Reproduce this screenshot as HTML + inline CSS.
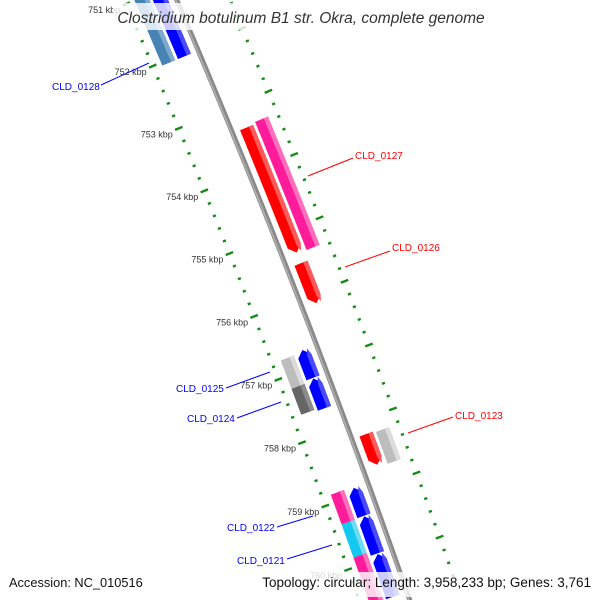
<!DOCTYPE html>
<html><head><meta charset="utf-8"><style>
html,body{margin:0;padding:0;background:#fff;overflow:hidden;width:600px;height:600px;}
svg{display:block;font-family:"Liberation Sans",sans-serif;overflow:hidden;}
</style></head><body>
<svg id="map" width="600" height="600" viewBox="0 0 600 600" xmlns="http://www.w3.org/2000/svg">
<rect x="0" y="0" width="600" height="600" fill="#fff"/>
<g id="ticks"></g>
<g id="backbone"></g>
<g id="feats"></g>
<g id="tlabels"></g>
<g font-size="10">
 <line x1="101" y1="85" x2="149" y2="63" stroke="#0000ff" stroke-width="1"/>
 <text x="52" y="90" fill="#0000ff">CLD_0128</text>
 <line x1="353" y1="158" x2="308" y2="176" stroke="#ff0000" stroke-width="1"/>
 <text x="355" y="159" fill="#ff0000">CLD_0127</text>
 <line x1="390" y1="251" x2="345" y2="267" stroke="#ff0000" stroke-width="1"/>
 <text x="392" y="251" fill="#ff0000">CLD_0126</text>
 <line x1="226" y1="388" x2="270" y2="372" stroke="#0000ff" stroke-width="1"/>
 <text x="176" y="392" fill="#0000ff">CLD_0125</text>
 <line x1="237" y1="418" x2="281" y2="402" stroke="#0000ff" stroke-width="1"/>
 <text x="187" y="422" fill="#0000ff">CLD_0124</text>
 <line x1="408" y1="433" x2="453" y2="417" stroke="#ff0000" stroke-width="1"/>
 <text x="455" y="419" fill="#ff0000">CLD_0123</text>
 <line x1="277" y1="527" x2="313" y2="516" stroke="#0000ff" stroke-width="1"/>
 <text x="227" y="531" fill="#0000ff">CLD_0122</text>
 <line x1="287" y1="559" x2="332" y2="545" stroke="#0000ff" stroke-width="1"/>
 <text x="237" y="564" fill="#0000ff">CLD_0121</text>
</g>
<rect x="113" y="3" width="374" height="27" fill="#fff" opacity="0.8"/>
<text x="301" y="23" text-anchor="middle" font-size="15.5" font-style="italic" fill="#333">Clostridium botulinum B1 str. Okra, complete genome</text>
<rect x="4" y="572" width="144" height="25" fill="#fff" opacity="0.8"/>
<rect x="258" y="572" width="338" height="25" fill="#fff" opacity="0.8"/>
<text x="9" y="587" font-size="12.8" fill="#111">Accession: NC_010516</text>
<text x="591" y="587" text-anchor="end" font-size="13.5" fill="#111">Topology: circular; Length: 3,958,233 bp; Genes: 3,761</text>
</svg>
<script>
const tickLabelValues = [751,752,753,754,755,756,757,758,759,760];
const featStart  = [750.9, 750.9, 753.37, 753.34, 755.52, 756.72, 757.17, 756.75, 757.20, 758.21, 758.23, 758.87, 759.34, 759.86, 758.89, 759.34, 759.93];
const featEnd    = [752.05, 752.05, 755.35, 755.37, 756.15, 757.16, 757.64, 757.20, 757.61, 758.69, 758.73, 759.34, 759.86, 760.6, 759.33, 759.92, 760.6];
const featLane   = [-1, -2, 1, 2, 1, -1, -1, -2, -2, 1, 2, -2, -2, -2, -1, -1, -1];
const featStrand = [-1, 0, 1, 0, 1, -1, -1, 0, 0, 1, 0, 0, 0, 0, -1, -1, -1];
const featColor  = ["blue","steel","red","pink","red","blue","blue","lgray","dgray","red","lgray","pink","cyan","pink","blue","blue","blue"];

const NS="http://www.w3.org/2000/svg";
const CX=-8375.7, CY=3665.8, TH0=-0.39940, DTH=0.007294, R_BB=9305, R_IN=9257, R_OUT=9354;
const laneR={"-2":9273,"-1":9290,"1":9320,"2":9337};
const pal={blue:["#0000ff","#4a4aff"],steel:["#4682b4","#7ea9cf"],red:["#ff0000","#ff5a5a"],pink:["#ff1c9a","#ff6ebd"],lgray:["#bdbdbd","#dcdcdc"],dgray:["#666666","#8c8c8c"],cyan:["#14c8f0","#6fdcf6"]};
function th(bp){return TH0+(bp-752)*DTH;}
function pt(bp,r){const t=th(bp);return [CX+r*Math.cos(t),CY+r*Math.sin(t)];}
function mk(tag,attrs,parent){const e=document.createElementNS(NS,tag);for(const k in attrs)e.setAttribute(k,attrs[k]);parent.appendChild(e);return e;}
function arcPath(b0,b1,r){let d="";const n=30;for(let i=0;i<=n;i++){const p=pt(b0+(b1-b0)*i/n,r);d+=(i?"L":"M")+p[0].toFixed(2)+","+p[1].toFixed(2);}return d;}

const bb=document.getElementById('backbone');
let e=mk('path',{d:arcPath(750.4,760.8,R_BB),stroke:"#8a8a8a","stroke-width":5,fill:"none"},bb);


e=mk('path',{d:arcPath(750.4,760.8,R_BB-1),stroke:"#b0b0b0","stroke-width":1.5,fill:"none"},bb);



const tg=document.getElementById('ticks');
for(let k=0;k<=50;k++){
  const bp=750.6+k*0.2;
  const major=Math.abs(bp-Math.round(bp))<0.01;
  const h=major?4:1.6;
  [R_IN,R_OUT].forEach((r)=>{
    const a=pt(bp,r-h),b=pt(bp,r+h);
    const l=mk('line',{x1:a[0],y1:a[1],x2:b[0],y2:b[1],stroke:"#188a18","stroke-width":2.4},tg);
    
    
  });
}
const tl=document.getElementById('tlabels');
tickLabelValues.forEach(v=>{
  const p=pt(v,R_IN);
  const t=mk('text',{x:(p[0]-6).toFixed(1),y:(p[1]+9).toFixed(1),"text-anchor":"end","font-size":"9","fill":"#333"},tl);
  t.textContent=v+" kbp";
  
  
});

const fg=document.getElementById('feats');
function featPoly(s,en,r0,r1,strand){
  const ah=0.1, rm=(r0+r1)/2, pts=[];
  let a=s,b=en;
  if(strand===1)b=en-ah; if(strand===-1)a=s+ah;
  const n=20;
  if(strand===-1)pts.push(pt(s,rm));
  for(let i=0;i<=n;i++)pts.push(pt(a+(b-a)*i/n,r1));
  if(strand===1)pts.push(pt(en,rm));
  for(let i=n;i>=0;i--)pts.push(pt(a+(b-a)*i/n,r0));
  return pts.map(p=>p[0].toFixed(2)+","+p[1].toFixed(2)).join(" ");
}
for(let i=0;i<featStart.length;i++){
  const rc=laneR[String(featLane[i])], c=pal[featColor[i]];
  const p1=mk('polygon',{points:featPoly(featStart[i],featEnd[i],rc-7,rc+7,featStrand[i]),fill:c[0]},fg);
  
  
  const p2=mk('polygon',{points:featPoly(featStart[i],featEnd[i],rc+2.5,rc+7,featStrand[i]),fill:c[1]},fg);
  
  
}
</script>
</body></html>
